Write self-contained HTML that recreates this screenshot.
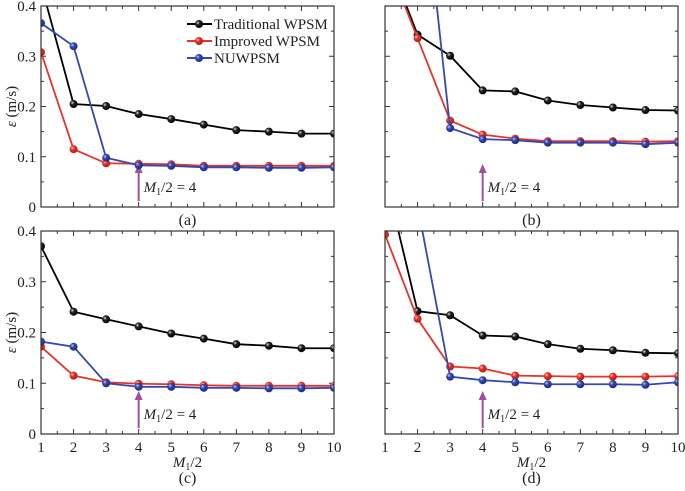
<!DOCTYPE html>
<html><head><meta charset="utf-8"><style>
html,body{margin:0;padding:0;background:#fff;}
svg, svg text, svg tspan{font-family:"Liberation Serif","Times New Roman",Times,serif;fill:#222;}
</style></head><body>
<svg id="chart" width="685" height="486" viewBox="0 0 685 486" xmlns="http://www.w3.org/2000/svg" font-family="Liberation Serif, Times New Roman, serif">
<defs>
<radialGradient id="gk" cx="0.35" cy="0.35" r="0.7"><stop offset="0" stop-color="#ddd"/><stop offset="0.35" stop-color="#222"/><stop offset="1" stop-color="#000"/></radialGradient>
<radialGradient id="gr" cx="0.35" cy="0.35" r="0.7"><stop offset="0" stop-color="#fcc"/><stop offset="0.35" stop-color="#e8332a"/><stop offset="1" stop-color="#b01810"/></radialGradient>
<radialGradient id="gb" cx="0.35" cy="0.35" r="0.7"><stop offset="0" stop-color="#ccd"/><stop offset="0.35" stop-color="#3548b0"/><stop offset="1" stop-color="#1a2a80"/></radialGradient>
</defs>
</svg>
<script>
const xCats=[1,2,3,4,5,6,7,8,9,10];
const yTicks=[0,0.1,0.2,0.3,0.4];
const yTickLabels=["0","0.1","0.2","0.3","0.4"];
const seriesNames=["Traditional WPSM","Improved WPSM","NUWPSM"];
const aBlack=[0.443,0.205,0.201,0.185,0.175,0.164,0.153,0.150,0.146,0.146];
const aRed=[0.308,0.115,0.087,0.086,0.085,0.082,0.082,0.082,0.082,0.082];
const aBlue=[0.366,0.320,0.098,0.083,0.082,0.079,0.079,0.078,0.078,0.079];
const bBlack=[0.51,0.343,0.301,0.232,0.230,0.212,0.203,0.198,0.193,0.192];
const bRed=[0.50,0.336,0.172,0.144,0.136,0.131,0.131,0.131,0.130,0.131];
const bBlue=[0.9,0.75,0.157,0.135,0.133,0.128,0.128,0.128,0.125,0.128];
const cBlack=[0.370,0.241,0.226,0.212,0.198,0.188,0.177,0.174,0.169,0.169];
const cRed=[0.172,0.115,0.102,0.099,0.098,0.096,0.095,0.095,0.095,0.095];
const cBlue=[0.182,0.172,0.100,0.093,0.093,0.091,0.091,0.090,0.090,0.091];
const dBlack=[0.51,0.242,0.234,0.194,0.192,0.177,0.168,0.165,0.160,0.159];
const dRed=[0.393,0.227,0.133,0.129,0.115,0.114,0.113,0.113,0.113,0.114];
const dBlue=[0.6,0.45,0.113,0.106,0.102,0.098,0.098,0.098,0.097,0.102];

const NS="http://www.w3.org/2000/svg";
const FF='"Liberation Serif", "Times New Roman", serif';
const svg=document.getElementById('chart');
function mk(tag,attrs,parent){const e=document.createElementNS(NS,tag);for(const k in attrs)e.setAttribute(k,attrs[k]);if(tag==='text')e.style.fontFamily=FF;(parent||svg).appendChild(e);return e;}
const panels=[
 {id:'a',x0:41,x1:334,y0:207,y1:6,data:[aBlack,aRed,aBlue],ylab:true,xlab:false,legend:true},
 {id:'b',x0:385,x1:678,y0:207,y1:6,data:[bBlack,bRed,bBlue],ylab:false,xlab:false,legend:false},
 {id:'c',x0:41,x1:334,y0:434,y1:231,data:[cBlack,cRed,cBlue],ylab:true,xlab:true,legend:false},
 {id:'d',x0:385,x1:678,y0:434,y1:231,data:[dBlack,dRed,dBlue],ylab:false,xlab:true,legend:false}
];
const colors=['#000','#e8332a','#3548b0'];
const grads=['url(#gk)','url(#gr)','url(#gb)'];
const names=['traditional','improved','nuwpsm'];
panels.forEach(p=>{
 const g=mk('g',{});
 
 
 const X=v=>p.x0+(v-1)/9*(p.x1-p.x0);
 const Y=v=>p.y0+v/0.4*(p.y1-p.y0);
 const cp=mk('clipPath',{id:'clip'+p.id},g);
 mk('rect',{x:p.x0,y:p.y1,width:p.x1-p.x0,height:p.y0-p.y1},cp);
 for(let i=0;i<=8;i++){const v=i*0.05;const y=Y(v);const len=i%2?3:5;
  mk('line',{x1:p.x0,x2:p.x0+len,y1:y,y2:y,stroke:'#333','stroke-width':1},g);
  mk('line',{x1:p.x1,x2:p.x1-len,y1:y,y2:y,stroke:'#333','stroke-width':1},g);}
 for(let i=0;i<=18;i++){const v=1+i*0.5;const x=X(v);const len=i%2?3:5;
  mk('line',{x1:x,x2:x,y1:p.y0,y2:p.y0-len,stroke:'#333','stroke-width':1},g);
  mk('line',{x1:x,x2:x,y1:p.y1,y2:p.y1+len,stroke:'#333','stroke-width':1},g);}
 if(p.ylab){yTicks.forEach((v,i)=>{const t=mk('text',{x:p.x0-5,y:Y(v)+5,'text-anchor':'end','font-size':15},g);t.textContent=yTickLabels[i];
   
   });
  const yt=mk('text',{x:0,y:0,'text-anchor':'middle','font-size':15,transform:`translate(16,${(p.y0+p.y1)/2}) rotate(-90)`},g);
  yt.innerHTML='<tspan font-style="italic">ε</tspan> (m/s)';
  
  }
 if(p.xlab){xCats.forEach(v=>{const t=mk('text',{x:X(v),y:p.y0+18,'text-anchor':'middle','font-size':15},g);t.textContent=v;
   
   });
  const xt=mk('text',{x:(p.x0+p.x1)/2,y:p.y0+33,'text-anchor':'middle','font-size':15},g);
  xt.innerHTML='<tspan font-style="italic">M</tspan><tspan font-size="10" dy="3">1</tspan><tspan dy="-3">/2</tspan>';
  
  }
 const pl=mk('text',{x:(p.x0+p.x1)/2,y:p.xlab?p.y0+49:p.y0+18,'text-anchor':'middle','font-size':16},g);
 pl.textContent='('+p.id+')';
 
 
 const ax=X(4);
 const ar=mk('g',{},g);
 
 
 mk('line',{x1:ax,x2:ax,y1:p.y0-6,y2:p.y0-36,stroke:'#a0509a','stroke-width':2},ar);
 mk('path',{d:`M${ax-4},${p.y0-34} L${ax},${p.y0-43} L${ax+4},${p.y0-34} Z`,fill:'#a0509a'},ar);
 const at=mk('text',{x:ax+5,y:p.y0-15,'font-size':15},ar);
 at.innerHTML='<tspan font-style="italic">M</tspan><tspan font-size="10" dy="3">1</tspan><tspan dy="-3">/2 = 4</tspan>';
 const sg=mk('g',{'clip-path':`url(#clip${p.id})`},g);
 p.data.forEach((arr,si)=>{
  const s=mk('g',{},sg);
  
  
  mk('polyline',{points:arr.map((v,i)=>X(xCats[i])+','+Y(v)).join(' '),fill:'none',stroke:colors[si],'stroke-width':1.8},s);
  arr.forEach((v,i)=>{const c=mk('circle',{cx:X(xCats[i]),cy:Y(v),r:4,fill:grads[si]},s);
   
   });
 });
 mk('rect',{x:p.x0,y:p.y1,width:p.x1-p.x0,height:p.y0-p.y1,fill:'none',stroke:'#333','stroke-width':1.2},g);
 if(p.legend){
  seriesNames.forEach((n,si)=>{const ly=24+si*17;
   const lg=mk('g',{},g);
   
   
   mk('line',{x1:187,x2:212,y1:ly,y2:ly,stroke:colors[si],'stroke-width':2},lg);
   mk('circle',{cx:199,cy:ly,r:4,fill:grads[si]},lg);
   const t=mk('text',{x:214,y:ly+5,'font-size':15},lg);t.textContent=n;});
 }
});
</script>
</body></html>
